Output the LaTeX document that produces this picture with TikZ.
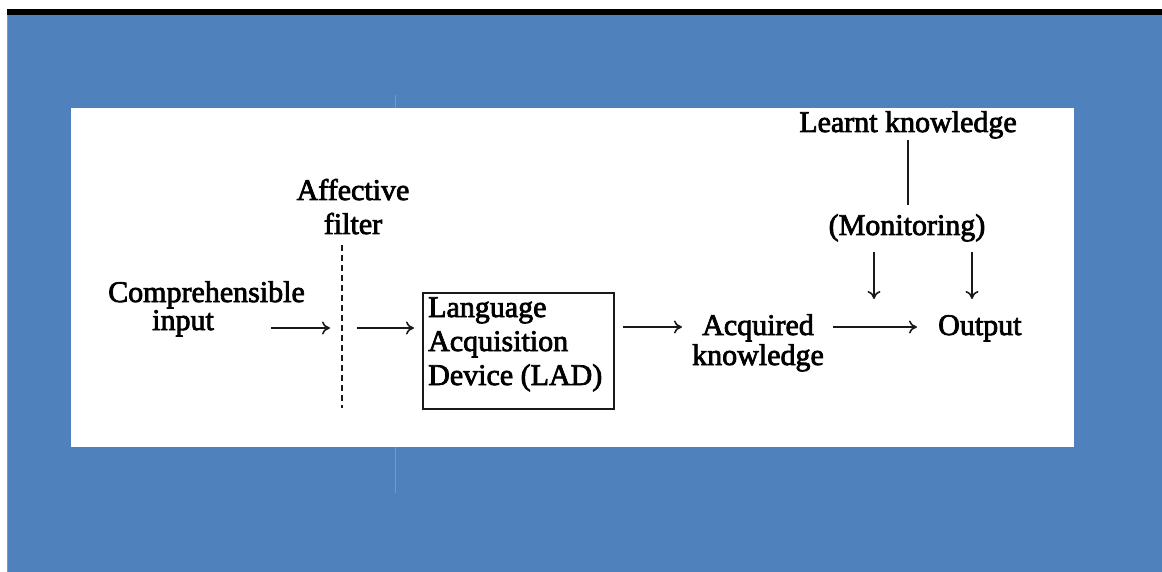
\documentclass[tikz,border=0pt]{standalone}
\usepackage{fontspec}
\newfontfamily\figfont{Liberation Serif}[FakeBold=2.5]
\usetikzlibrary{arrows.meta}
\definecolor{slideblue}{HTML}{4F81BD}
\definecolor{paleblue}{HTML}{7399CC}
\begin{document}
\begin{tikzpicture}[x=1pt,y=-1pt,
  lbl/.style={font=\figfont\fontsize{30}{34}\selectfont, inner sep=0pt, text=black},
  conn/.style={line width=2pt, draw=black!90},
  arr/.style={conn, -{To[length=8pt,width=13pt,line width=1.6pt]}},
  filterline/.style={conn, dash pattern=on 6pt off 4pt},
  ladbox/.style={draw=black!90, line width=2pt, minimum width=191pt, minimum height=116pt, inner sep=0pt}]
\useasboundingbox (0,0) rectangle (1162,572);
% slide background
\fill[white] (0,0) rectangle (1162,572);
\fill[black] (7,9) rectangle (1162,15);
\fill[slideblue] (7,15) rectangle (1162,572);
\draw[paleblue, line width=1pt] (7.5,15) -- (7.5,572);
\draw[paleblue, line width=1.2pt] (395.5,95) -- (395.5,493);
% white figure panel
\fill[white] (71,108) rectangle (1074,447);

% labels (a multi-line node's base anchor sits on its last line)
\node[lbl, anchor=base west, align=left] (inp) at (108,330)
  {Comprehensible\\[-6pt]\hspace*{44pt}input};
\node[lbl, anchor=base, align=center] (aff) at (353,234) {Affective\\filter};
\node[ladbox, anchor=north west] (lad) at (422,292) {};
\node[lbl, anchor=base west, align=left] (ladtxt) at (428,385)
  {Language\\Acquisition\\Device (LAD)};
\node[lbl, anchor=base west, align=left] (acq) at (702,365)
  {Acquired\\[-4pt]\hspace*{-10pt}knowledge};
\node[lbl, anchor=base west] (out) at (938,335) {Output};
\node[lbl, anchor=base] (learnt) at (908,132) {Learnt knowledge};
\node[lbl, anchor=base] (mon) at (907,235) {(Monitoring)};

% connector end points
\coordinate (f1) at (342,245);
\coordinate (f2) at (342,408);
\coordinate (a1s) at (271,328);
\coordinate (a1e) at (330,328);
\coordinate (a2s) at (357,328);
\coordinate (a2e) at (414,328);
\coordinate (a3s) at (623,327);
\coordinate (a3e) at (682,327);
\coordinate (a4s) at (833,327);
\coordinate (a4e) at (917,327);
\coordinate (lk) at (908,140);
\coordinate (mk) at (908,205);
\coordinate (d1s) at (874,252);
\coordinate (d1e) at (874,299);
\coordinate (d2s) at (972,252);
\coordinate (d2e) at (972,299);

% connectors
\draw[filterline] (f1) -- (f2);
\draw[arr] (a1s) -- (a1e);
\draw[arr] (a2s) -- (a2e);
\draw[arr] (a3s) -- (a3e);
\draw[arr] (a4s) -- (a4e);
\draw[conn] (lk) -- (mk);
\draw[arr] (d1s) -- (d1e);
\draw[arr] (d2s) -- (d2e);
\end{tikzpicture}
\end{document}
